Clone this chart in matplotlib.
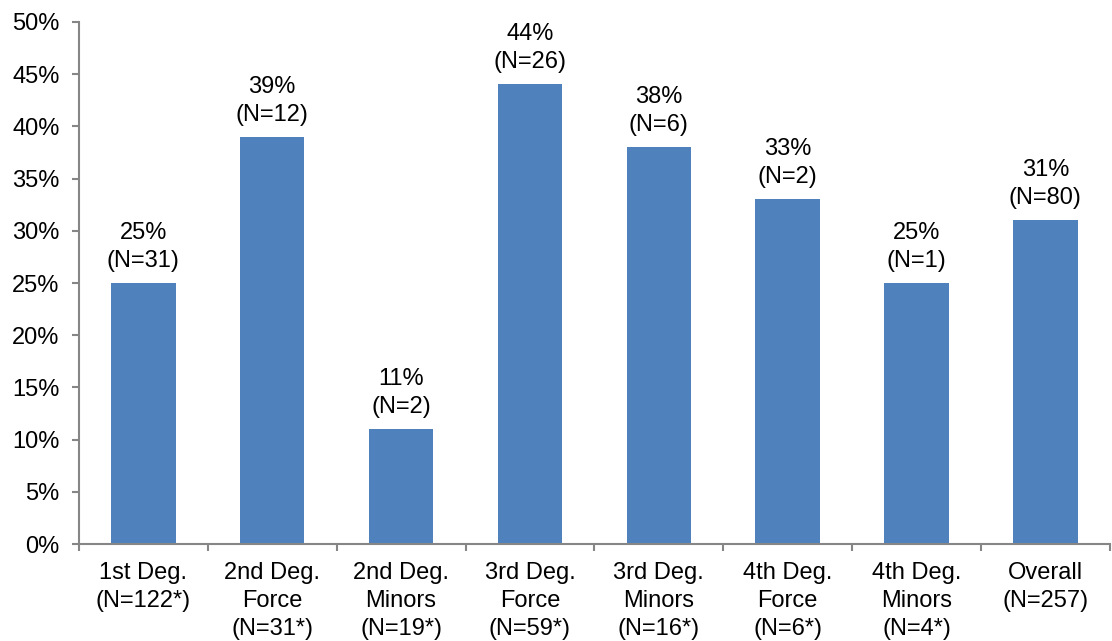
import matplotlib
matplotlib.use("Agg")
import matplotlib.pyplot as plt
from matplotlib.ticker import FuncFormatter

plt.rcParams['font.family'] = ['Liberation Sans', 'DejaVu Sans']

# data
categories = ["1st Deg.\n(N=122*)", "2nd Deg.\nForce\n(N=31*)", "2nd Deg.\nMinors\n(N=19*)",
              "3rd Deg.\nForce\n(N=59*)", "3rd Deg.\nMinors\n(N=16*)", "4th Deg.\nForce\n(N=6*)",
              "4th Deg.\nMinors\n(N=4*)", "Overall\n(N=257)"]
percents = [25, 39, 11, 44, 38, 33, 25, 31]
counts = [31, 12, 2, 26, 6, 2, 1, 80]

bar_color = "#4F81BD"
axis_color = "#868686"
fs = 17

fig = plt.figure(figsize=(11.12, 6.41), dpi=100)
ax = fig.add_axes([0.071, 0.151, 0.927, 0.815])

x = list(range(len(categories)))
ax.bar(x, percents, width=0.5, color=bar_color, zorder=2)

for xi, p, n in zip(x, percents, counts):
    ax.annotate(f"{p}%\n(N={n})", (xi, p), xytext=(0, 8), textcoords="offset points",
                ha="center", va="bottom", fontsize=fs, linespacing=1.35)

ax.set_xlim(-0.5, len(categories) - 0.5)
ax.set_ylim(0, 50)
ax.set_yticks(range(0, 51, 5))
ax.yaxis.set_major_formatter(FuncFormatter(lambda v, pos: f"{int(v)}%"))

# x ticks between categories, labels centered
ax.set_xticks([i - 0.5 for i in range(len(categories) + 1)])
ax.set_xticklabels([])
ax.set_xticks(x, minor=True)
ax.set_xticklabels(categories, minor=True, fontsize=fs, linespacing=1.35, va="top")
ax.tick_params(axis="x", which="minor", length=0, pad=13)
ax.tick_params(axis="x", which="major", length=5, width=1.5, color=axis_color, direction="out")
ax.tick_params(axis="y", length=5, width=1.5, color=axis_color, labelsize=fs, pad=9)

for s in ["top", "right"]:
    ax.spines[s].set_visible(False)
for s in ["left", "bottom"]:
    ax.spines[s].set_color(axis_color)
    ax.spines[s].set_linewidth(1.5)

fig.savefig("out.png", dpi=100)
